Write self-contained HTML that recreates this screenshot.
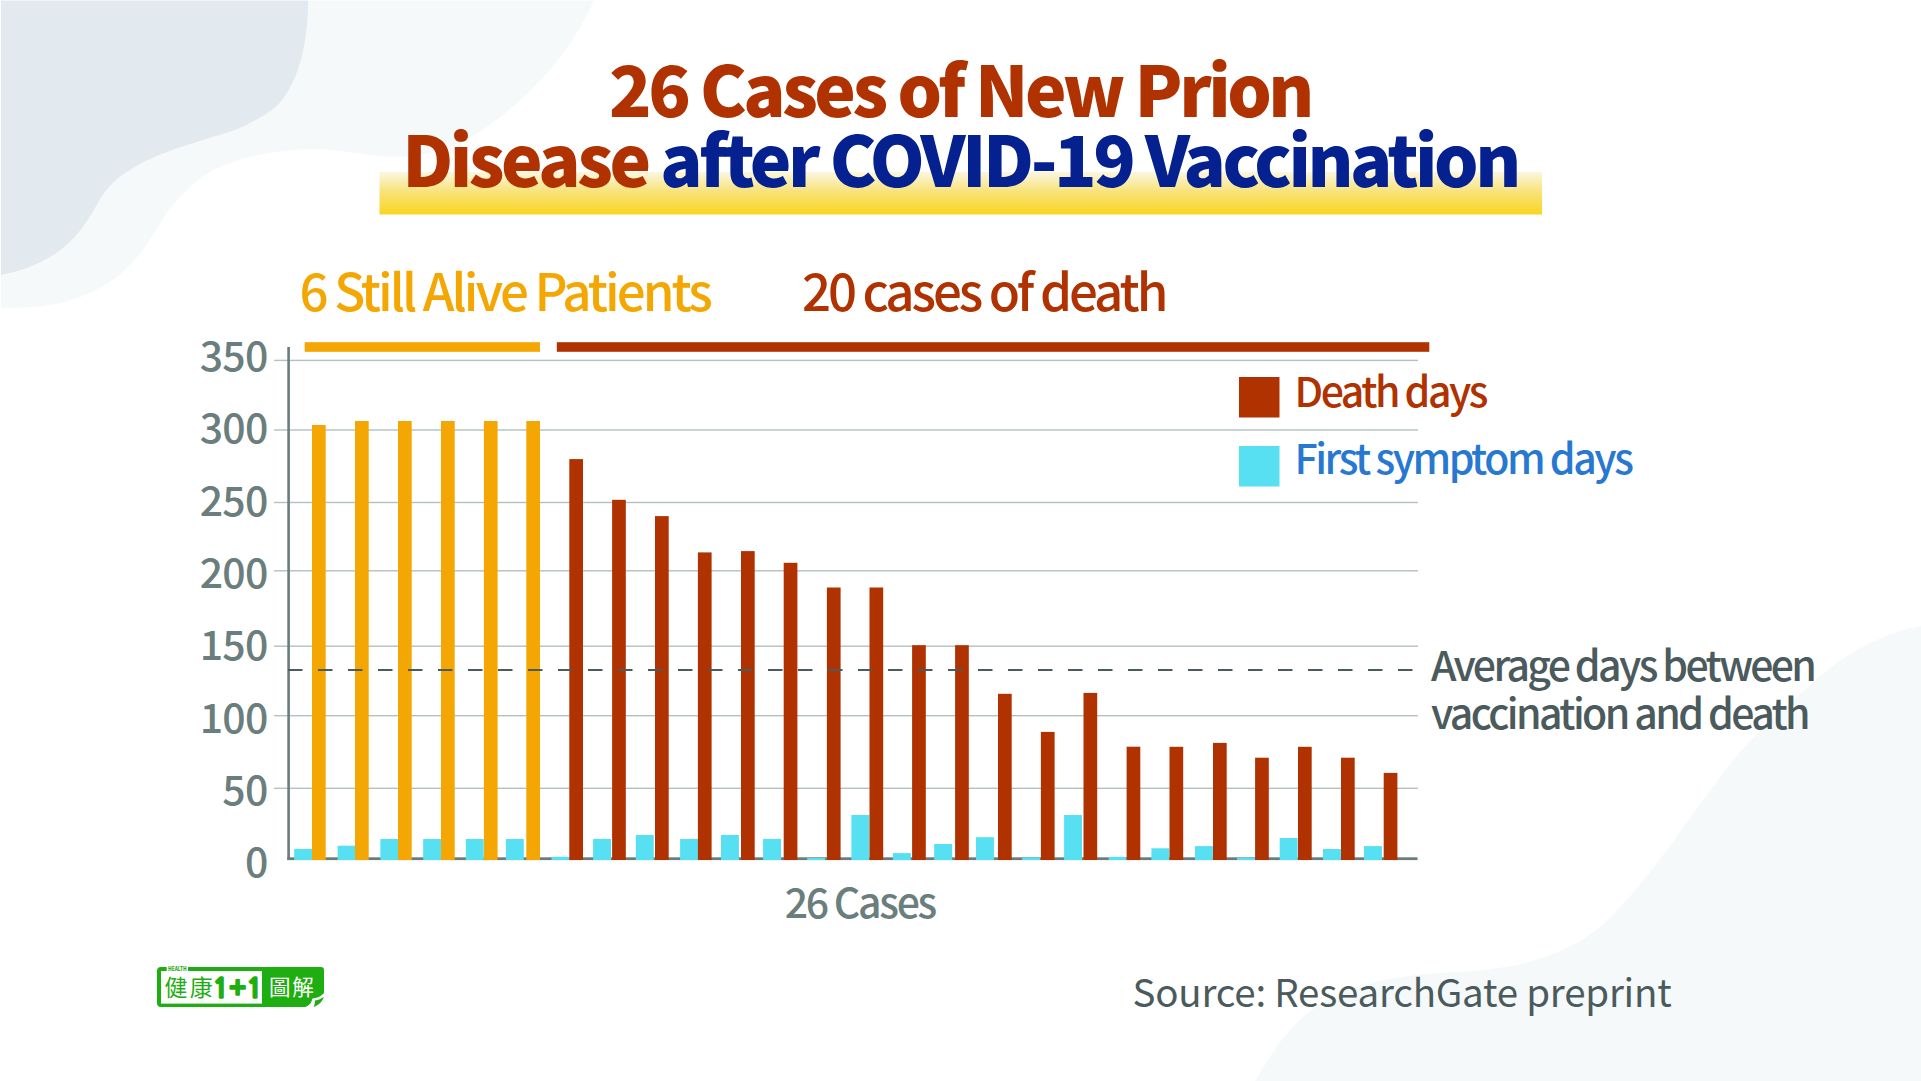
<!DOCTYPE html>
<html><head><meta charset="utf-8"><title>26 Cases of New Prion Disease after COVID-19 Vaccination</title>
<style>
html,body{margin:0;padding:0;background:#fff;overflow:hidden}
svg{display:block}
text{font-family:'Noto Sans CJK TC','Noto Sans CJK SC',sans-serif;font-weight:500}
</style></head><body>
<svg width="1921" height="1081" viewBox="0 0 1921 1081">
<defs>
<linearGradient id="hl" x1="0" y1="0" x2="0" y2="1">
<stop offset="0" stop-color="#fbf7e0"/>
<stop offset="0.45" stop-color="#f8e37c"/>
<stop offset="1" stop-color="#f9d522"/>
</linearGradient>
</defs>
<rect width="1921" height="1081" fill="#ffffff"/>
<!-- background blobs -->
<path fill="#f5f9fa" d="M0,0 L594,0 C575,45 535,95 481,131 C455,148 428,156 401,157 C370,157 340,149 310,149 C275,150 238,157 212,171 C193,182 178,197 166,214 C156,229 145,251 127,268 C110,285 80,302 42,306 C22,308 8,308 0,307.5 Z"/>
<path fill="#e2e9ef" d="M0,0 L308,0 C308,30 304,55 295,77 C288,93 280,106 266,114 C250,124 235,131 219,135 C200,141 190,144 175,149 C155,156 140,163 125,173 C110,183 102,195 95,208 C85,225 78,235 64,247 C45,263 20,272 0,275 Z"/>
<path fill="#f5f9fa" d="M1921,626 C1895,630 1860,645 1830,668 C1800,692 1775,718 1749,742 C1725,768 1705,798 1685,825 C1660,860 1635,893 1610,918 C1590,938 1560,955 1517,965 C1480,972 1450,972 1425,974 C1385,978 1355,985 1330,998 C1300,1014 1280,1040 1268,1060 L1255,1081 L1921,1081 Z"/>
<rect x="0" y="0" width="1921" height="1" fill="#fff" fill-opacity="0.55"/>
<rect x="0" y="0" width="1" height="1081" fill="#fff" fill-opacity="0.9"/>
<!-- title highlight -->
<rect x="379.5" y="172" width="1162.5" height="42.5" fill="url(#hl)"/>
<!-- title -->
<text x="960" y="117" text-anchor="middle" font-size="70" style="font-weight:900" fill="#b03200" letter-spacing="-3.47">26 Cases of New Prion</text>
<text x="960" y="187" text-anchor="middle" font-size="70" style="font-weight:900" letter-spacing="-3.47"><tspan fill="#b03200">Disease </tspan><tspan fill="#04218f">after COVID-19 Vaccination</tspan></text>
<!-- group labels -->
<text x="299.6" y="310.8" font-size="51" fill="#f4a702" letter-spacing="-2.96">6 Still Alive Patients</text>
<text x="802" y="310.8" font-size="51" fill="#b03200" letter-spacing="-3.04">20 cases of death</text>
<rect x="304.7" y="342.2" width="235.3" height="9.6" fill="#f4a702"/>
<rect x="556.8" y="342.2" width="872.5" height="9.6" fill="#b03200"/>

<rect x="274" y="359.7" width="1144" height="1.4" fill="#b4c0c0"/>
<rect x="274" y="429.3" width="1144" height="1.4" fill="#b4c0c0"/>
<rect x="274" y="501.8" width="1144" height="1.4" fill="#b4c0c0"/>
<rect x="274" y="570.1" width="1144" height="1.4" fill="#b4c0c0"/>
<rect x="274" y="645.5" width="1144" height="1.4" fill="#b4c0c0"/>
<rect x="274" y="715.0" width="1144" height="1.4" fill="#b4c0c0"/>
<rect x="274" y="787.6" width="1144" height="1.4" fill="#b4c0c0"/>
<text x="267.5" y="371.2" text-anchor="end" font-size="41" fill="#6a7e7e" letter-spacing="-0.8">350</text>
<text x="267.5" y="443.4" text-anchor="end" font-size="41" fill="#6a7e7e" letter-spacing="-0.8">300</text>
<text x="267.5" y="515.7" text-anchor="end" font-size="41" fill="#6a7e7e" letter-spacing="-0.8">250</text>
<text x="267.5" y="588.0" text-anchor="end" font-size="41" fill="#6a7e7e" letter-spacing="-0.8">200</text>
<text x="267.5" y="660.2" text-anchor="end" font-size="41" fill="#6a7e7e" letter-spacing="-0.8">150</text>
<text x="267.5" y="732.5" text-anchor="end" font-size="41" fill="#6a7e7e" letter-spacing="-0.8">100</text>
<text x="267.5" y="804.7" text-anchor="end" font-size="41" fill="#6a7e7e" letter-spacing="-0.8">50</text>
<text x="267.5" y="877.0" text-anchor="end" font-size="41" fill="#6a7e7e" letter-spacing="-0.8">0</text>
<rect x="287.3" y="347" width="2.6" height="513" fill="#6a7c7c"/>
<rect x="287.3" y="857.3" width="1130.2" height="2.8" fill="#6a7c7c"/>
<rect x="294.2" y="848.9" width="17.9" height="11.1" fill="#56e0f1"/>
<rect x="312.0" y="425.0" width="13.7" height="435.0" fill="#f4a702"/>
<rect x="337.6" y="845.7" width="17.9" height="14.3" fill="#56e0f1"/>
<rect x="355.0" y="421.0" width="13.7" height="439.0" fill="#f4a702"/>
<rect x="380.4" y="839.0" width="17.9" height="21.0" fill="#56e0f1"/>
<rect x="398.0" y="421.0" width="13.7" height="439.0" fill="#f4a702"/>
<rect x="423.2" y="839.0" width="17.9" height="21.0" fill="#56e0f1"/>
<rect x="441.0" y="421.0" width="13.7" height="439.0" fill="#f4a702"/>
<rect x="465.8" y="839.0" width="17.9" height="21.0" fill="#56e0f1"/>
<rect x="483.9" y="421.0" width="13.7" height="439.0" fill="#f4a702"/>
<rect x="505.9" y="839.0" width="17.9" height="21.0" fill="#56e0f1"/>
<rect x="526.3" y="421.0" width="13.7" height="439.0" fill="#f4a702"/>
<rect x="551.5" y="856.8" width="17.9" height="3.2" fill="#56e0f1"/>
<rect x="569.3" y="459.1" width="13.7" height="400.9" fill="#b03200"/>
<rect x="593.1" y="838.9" width="17.9" height="21.1" fill="#56e0f1"/>
<rect x="612.1" y="499.8" width="13.7" height="360.2" fill="#b03200"/>
<rect x="635.8" y="835.0" width="17.9" height="25.0" fill="#56e0f1"/>
<rect x="655.0" y="516.1" width="13.7" height="343.9" fill="#b03200"/>
<rect x="680.1" y="839.0" width="17.9" height="21.0" fill="#56e0f1"/>
<rect x="697.9" y="552.4" width="13.7" height="307.6" fill="#b03200"/>
<rect x="721.0" y="835.0" width="17.9" height="25.0" fill="#56e0f1"/>
<rect x="741.0" y="551.1" width="13.7" height="308.9" fill="#b03200"/>
<rect x="763.1" y="838.9" width="17.9" height="21.1" fill="#56e0f1"/>
<rect x="783.7" y="562.8" width="13.7" height="297.2" fill="#b03200"/>
<rect x="807.2" y="858.0" width="17.9" height="2.0" fill="#56e0f1"/>
<rect x="826.9" y="587.5" width="13.7" height="272.5" fill="#b03200"/>
<rect x="851.4" y="815.0" width="17.9" height="45.0" fill="#56e0f1"/>
<rect x="869.5" y="587.5" width="13.7" height="272.5" fill="#b03200"/>
<rect x="892.9" y="853.1" width="17.9" height="6.9" fill="#56e0f1"/>
<rect x="912.1" y="645.2" width="13.7" height="214.8" fill="#b03200"/>
<rect x="934.2" y="844.0" width="17.9" height="16.0" fill="#56e0f1"/>
<rect x="955.1" y="645.2" width="13.7" height="214.8" fill="#b03200"/>
<rect x="976.0" y="837.2" width="17.9" height="22.8" fill="#56e0f1"/>
<rect x="998.0" y="693.8" width="13.7" height="166.2" fill="#b03200"/>
<rect x="1022.2" y="857.5" width="17.9" height="2.5" fill="#56e0f1"/>
<rect x="1040.9" y="731.9" width="13.7" height="128.1" fill="#b03200"/>
<rect x="1064.1" y="815.0" width="17.9" height="45.0" fill="#56e0f1"/>
<rect x="1083.5" y="692.9" width="13.7" height="167.1" fill="#b03200"/>
<rect x="1108.6" y="856.9" width="17.9" height="3.1" fill="#56e0f1"/>
<rect x="1126.6" y="746.7" width="13.7" height="113.3" fill="#b03200"/>
<rect x="1151.4" y="848.3" width="17.9" height="11.7" fill="#56e0f1"/>
<rect x="1169.5" y="746.8" width="13.7" height="113.2" fill="#b03200"/>
<rect x="1195.0" y="846.1" width="17.9" height="13.9" fill="#56e0f1"/>
<rect x="1213.0" y="742.9" width="13.7" height="117.1" fill="#b03200"/>
<rect x="1237.1" y="857.6" width="17.9" height="2.4" fill="#56e0f1"/>
<rect x="1255.1" y="757.7" width="13.7" height="102.3" fill="#b03200"/>
<rect x="1279.7" y="838.0" width="17.9" height="22.0" fill="#56e0f1"/>
<rect x="1298.0" y="746.8" width="13.7" height="113.2" fill="#b03200"/>
<rect x="1323.0" y="849.0" width="17.9" height="11.0" fill="#56e0f1"/>
<rect x="1341.0" y="757.7" width="13.7" height="102.3" fill="#b03200"/>
<rect x="1364.0" y="846.1" width="17.9" height="13.9" fill="#56e0f1"/>
<rect x="1383.7" y="772.9" width="13.7" height="87.1" fill="#b03200"/>
<line x1="288" y1="670" x2="1418" y2="670" stroke="#4b5b5d" stroke-width="2" stroke-dasharray="14.5 15.5"/>
<rect x="1239" y="377" width="40.5" height="40.5" fill="#b03200"/>
<rect x="1239" y="446" width="40.5" height="40.5" fill="#56e0f1"/>
<text x="1294.5" y="407.2" font-size="41" fill="#b03200" letter-spacing="-2.49">Death days</text>
<text x="1294.5" y="473.5" font-size="41" fill="#2878d2" letter-spacing="-2.47">First symptom days</text>
<text x="1431" y="680.6" font-size="41" fill="#4b5b5d" letter-spacing="-2.64">Average days between</text>
<text x="1431" y="728.6" font-size="41" fill="#4b5b5d" letter-spacing="-2.62">vaccination and death</text>
<text x="784.7" y="917.8" font-size="41" fill="#6a7e7e" letter-spacing="-2.29">26 Cases</text>
<text x="1132.5" y="1006.5" font-size="38.5" fill="#4b5b5d" letter-spacing="-0.22" style="font-weight:400">Source: ResearchGate preprint</text>
<g>
<path d="M161,967 H321 Q324,967 324,970 V993 C321,996.5 317,998 312.5,998.5 C311.5,1002.5 309.5,1005.5 305.5,1007 H161 Q157,1007 157,1003 V971 Q157,967 161,967 Z" fill="#1fae12"/>
<path d="M315,1000.5 C318.5,1000 321.5,998.5 323.8,997 C322.5,1001.5 318.5,1005.5 313.5,1007 C314.5,1005 315,1003 315,1000.5 Z" fill="#1fae12"/>
<rect x="161" y="971" width="101" height="32.6" fill="#fff"/>
<rect x="166.7" y="966.5" width="21.3" height="4.6" fill="#fff"/>
<text x="168" y="971.3" font-size="5.6" fill="#1fae12" textLength="18.7" lengthAdjust="spacingAndGlyphs" style="font-weight:900">HEALTH</text>
<text x="164.5" y="995.8" font-size="23" fill="#1fae12" style="font-weight:400" letter-spacing="2.2">健康</text>
<text x="212.6" y="997.9" font-size="27" fill="#1fae12" stroke="#1fae12" stroke-width="1.3" stroke-linejoin="round" style="font-family:'NanumGothic',sans-serif;font-weight:800" letter-spacing="-0.2">1+1</text>
<text x="269" y="995" font-size="21.5" fill="#fff" style="font-weight:400" letter-spacing="1.8">圖解</text>
</g>
</svg>
</body></html>
